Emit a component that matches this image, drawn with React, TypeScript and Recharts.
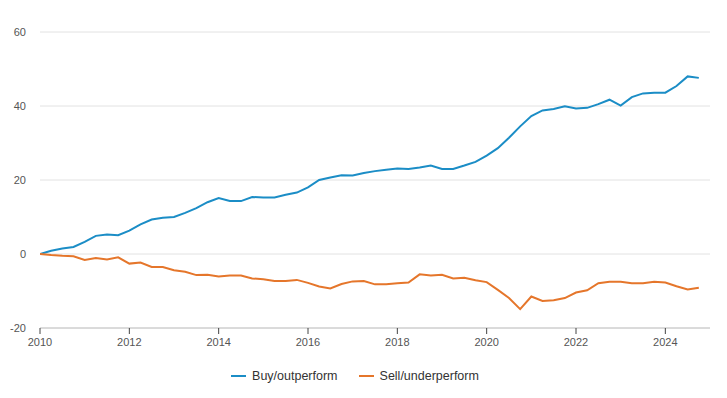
import React from "react";
import { LineChart, Line, XAxis, YAxis, CartesianGrid, Legend } from "recharts";

const startYear = 2010;
const buyValues = [
  0, 0.9, 1.5, 1.9, 3.3, 4.9, 5.3, 5.1, 6.3, 8.0,
  9.3, 9.8, 10.0, 11.1, 12.4, 14.0, 15.1, 14.3, 14.3, 15.4,
  15.3, 15.3, 16.0, 16.6, 18.0, 20.0, 20.7, 21.3, 21.2, 21.9,
  22.4, 22.8, 23.1, 23.0, 23.4, 23.9, 23.0, 23.0, 23.9, 24.9,
  26.6, 28.6, 31.4, 34.5, 37.3, 38.8, 39.2, 39.9, 39.3, 39.5,
  40.5, 41.7, 40.1, 42.4, 43.4, 43.6, 43.6, 45.4, 48.0, 47.6,
];
const sellValues = [
  0, -0.3, -0.5, -0.6, -1.6, -1.1, -1.5, -0.9, -2.6, -2.3,
  -3.5, -3.5, -4.4, -4.8, -5.7, -5.6, -6.1, -5.8, -5.8, -6.6,
  -6.8, -7.3, -7.3, -7.0, -7.8, -8.8, -9.3, -8.1, -7.4, -7.3,
  -8.2, -8.2, -7.9, -7.7, -5.5, -5.8, -5.6, -6.6, -6.4, -7.1,
  -7.6, -9.7, -11.9, -14.9, -11.5, -12.7, -12.5, -11.9, -10.4, -9.8,
  -7.9, -7.5, -7.5, -7.9, -7.9, -7.5, -7.7, -8.7, -9.6, -9.1,
];
const xTicks = [2010, 2012, 2014, 2016, 2018, 2020, 2022, 2024];
const yTicks = [-20, 0, 20, 40, 60];
const seriesNames = ["Buy/outperform", "Sell/underperform"];
const seriesColors = ["#1b8dc6", "#e5762b"];

const data = buyValues.map((b, i) => ({
  t: startYear + i / 4,
  buy: b,
  sell: sellValues[i],
}));

const FONT = "'Liberation Sans', Arial, sans-serif";

const LegendContent = () => (
  <div
    style={{
      display: "flex",
      justifyContent: "center",
      alignItems: "center",
      height: 20,
      fontFamily: FONT,
      fontSize: 12.5,
      color: "#333",
    }}
  >
    {seriesNames.map((n, i) => (
      <div key={n} style={{ display: "flex", alignItems: "center", marginRight: i === 0 ? 21 : 0 }}>
        <div style={{ width: 15, height: 2, background: seriesColors[i], marginRight: 6 }} />
        <span>{n}</span>
      </div>
    ))}
  </div>
);

export default function App() {
  return (
    <div style={{ position: "absolute", left: 0, top: 0, background: "#fff" }}>
      <LineChart
        width={727}
        height={398}
        data={data}
        margin={{ top: 32, right: 17, left: 0, bottom: 12 }}
      >
        <CartesianGrid vertical={false} stroke="#e2e2e2" />
        <XAxis
          dataKey="t"
          type="number"
          domain={[2010, 2024.92]}
          allowDataOverflow
          ticks={xTicks}
          allowDecimals={false}
          height={38}
          stroke="#c4c4c4"
          tickSize={6}
          tickMargin={4}
          tickLine={{ stroke: "#444" }}
          tick={{ fill: "#555", fontSize: 11, fontFamily: FONT }}
        />
        <YAxis
          domain={[-20, 60]}
          ticks={yTicks}
          width={40}
          axisLine={false}
          tickLine={false}
          tickMargin={8}
          tick={{ fill: "#555", fontSize: 11, fontFamily: FONT }}
        />
        <Legend verticalAlign="bottom" height={20} content={<LegendContent />} />
        <Line
          type="linear"
          dataKey="buy"
          name={seriesNames[0]}
          stroke={seriesColors[0]}
          strokeWidth={2}
          dot={false}
          isAnimationActive={false}
        />
        <Line
          type="linear"
          dataKey="sell"
          name={seriesNames[1]}
          stroke={seriesColors[1]}
          strokeWidth={2}
          dot={false}
          isAnimationActive={false}
        />
      </LineChart>
    </div>
  );
}
